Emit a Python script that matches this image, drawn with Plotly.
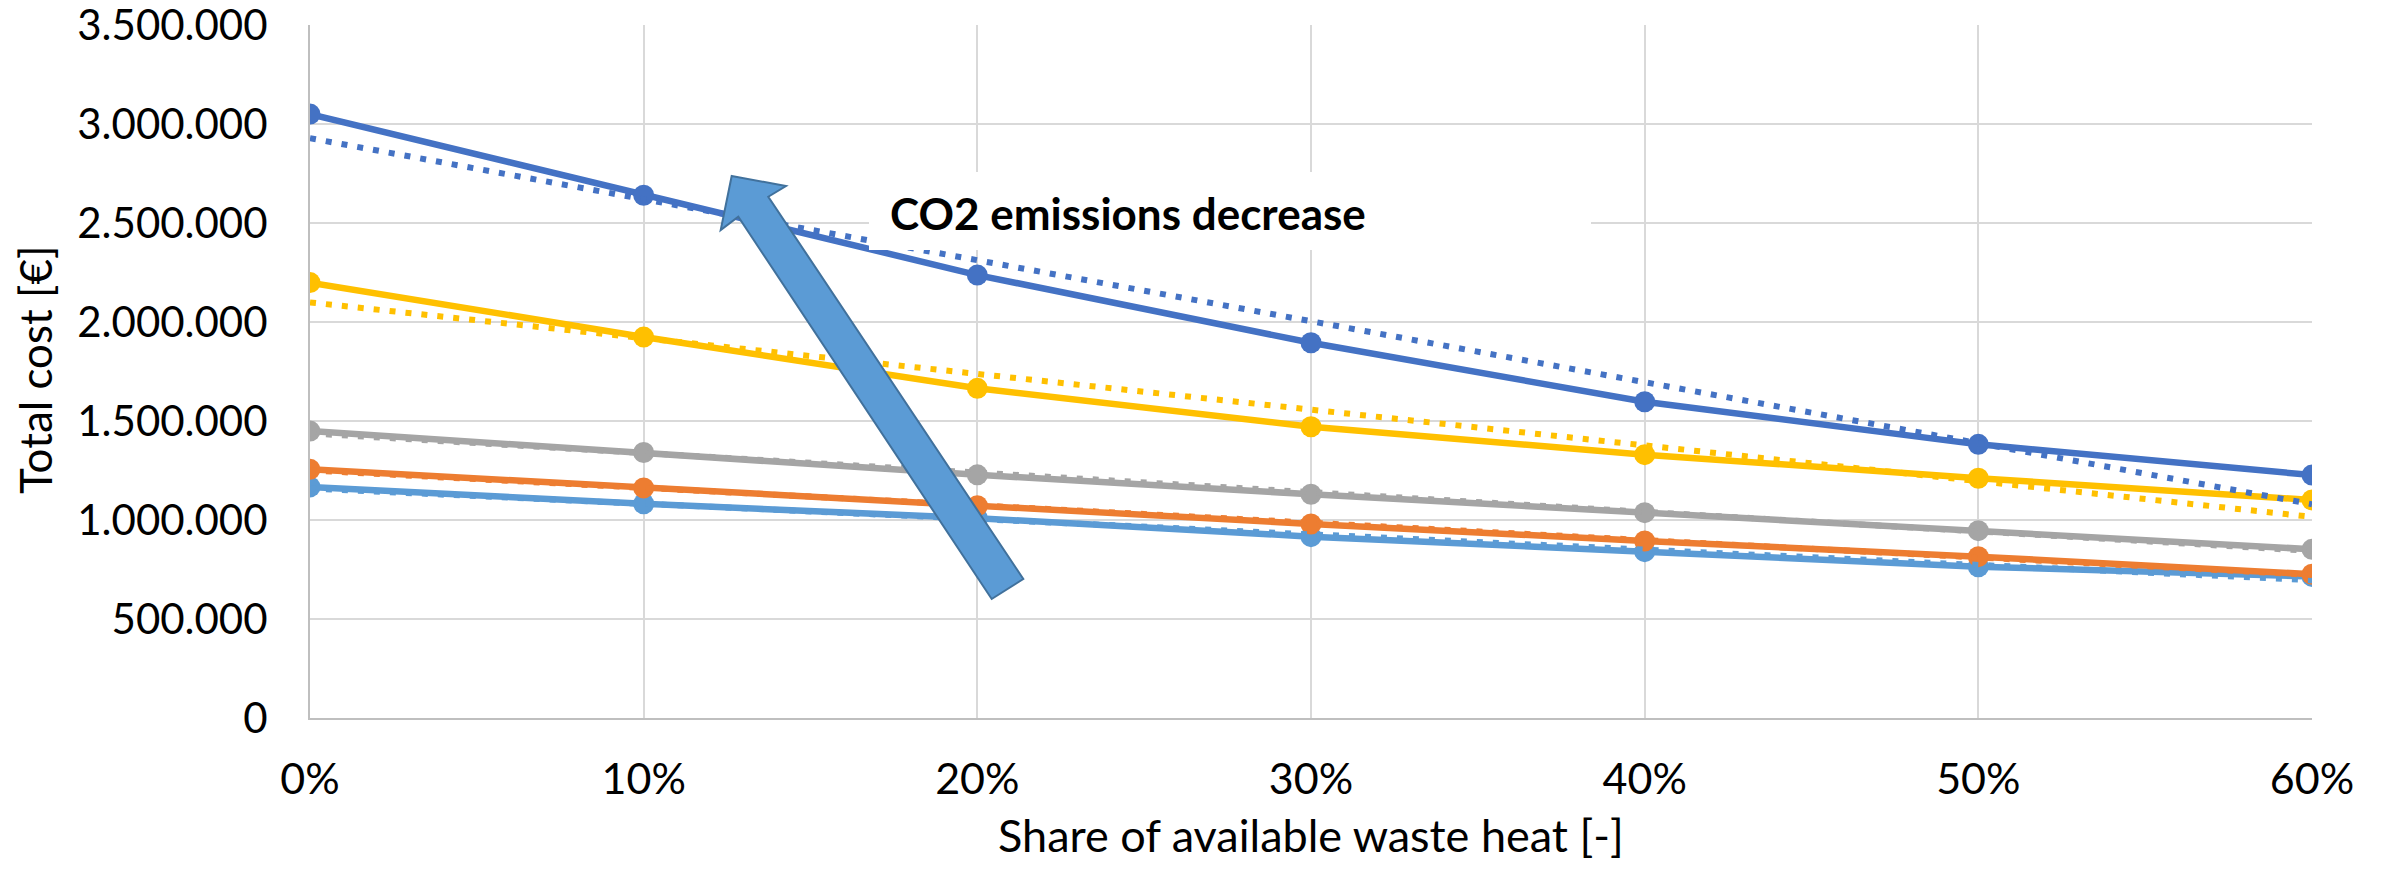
import numpy as np
import plotly.graph_objects as go

# Share of available waste heat (x) and total cost per scenario (y, EUR)
share = [0.0, 0.1, 0.2, 0.3, 0.4, 0.5, 0.6]

cost_blue = [3050000, 2640000, 2237000, 1895000, 1597000, 1382000, 1227000]
cost_yellow = [2199000, 1924000, 1665000, 1471000, 1330000, 1211000, 1101000]
cost_gray = [1449000, 1341000, 1228000, 1130000, 1037000, 946000, 852000]
cost_orange = [1256000, 1162000, 1072000, 980000, 894000, 815000, 726000]
cost_lightblue = [1167000, 1082000, 1009000, 916000, 840000, 764000, 715000]

y_ticks = [0, 500000, 1000000, 1500000, 2000000, 2500000, 3000000, 3500000]
x_ticks = [0.0, 0.1, 0.2, 0.3, 0.4, 0.5, 0.6]

series = [
    (cost_lightblue, "#5B9BD5"),
    (cost_orange, "#ED7D31"),
    (cost_gray, "#A5A5A5"),
    (cost_yellow, "#FFC000"),
    (cost_blue, "#4472C4"),
]

FONT = "Lato"
W, H = 2381, 870
L, R, T, B = 310, 69, 25, 152
PW, PH = W - L - R, H - T - B


def px(x, y):
    """Pixel position -> paper coordinates of the plot area."""
    return (x - L) / PW, (H - B - y) / PH


fig = go.Figure()

for vals, col in series:
    fig.add_trace(go.Scatter(
        x=share, y=vals, mode="lines+markers",
        line=dict(color=col, width=6.5),
        marker=dict(color=col, size=21),
        showlegend=False, hoverinfo="skip"))

# Linear trendlines of each series (dotted)
xs = np.array(share)
for vals, col in series:
    k, d = np.polyfit(xs, np.array(vals, dtype=float), 1)
    fig.add_trace(go.Scatter(
        x=[xs[0], xs[-1]], y=[d + k * xs[0], d + k * xs[-1]], mode="lines",
        line=dict(color=col, width=6, dash="6px,10px"),
        showlegend=False, hoverinfo="skip"))

shapes = []
# white label box
x0, y0 = px(869, 250)
x1, y1 = px(1591, 172)
shapes.append(dict(type="rect", xref="paper", yref="paper",
                   x0=x0, y0=y0, x1=x1, y1=y1,
                   fillcolor="white", line=dict(width=0), layer="above"))

# block arrow
pts = [(731.7, 176), (786, 186), (768.3, 196.7), (1023.3, 579),
       (991.7, 599), (738.3, 216.7), (720.7, 230)]
path = ""
for i, (ax, ay) in enumerate(pts):
    u, v = px(ax, ay)
    path += ("M" if i == 0 else "L") + f"{u:.5f},{v:.5f} "
path += "Z"
shapes.append(dict(type="path", xref="paper", yref="paper", path=path,
                   fillcolor="#5B9BD5", line=dict(color="#41719C", width=2),
                   layer="above"))

annotations = [
    dict(text="<b>CO2 emissions decrease</b>", xref="paper", yref="paper",
         x=px(888, 0)[0], y=px(0, 213)[1], xanchor="left", yanchor="middle",
         showarrow=False, font=dict(family=FONT, size=44, color="black")),
    dict(text="Share of available waste heat [-]", xref="paper", yref="paper",
         x=0.5, y=0, yshift=-117, xanchor="center", yanchor="middle",
         showarrow=False, font=dict(family=FONT, size=45, color="#000000")),
    dict(text="Total cost [€]", xref="paper", yref="paper", textangle=-90,
         x=0, xshift=35 - L, y=px(0, 370)[1], xanchor="center", yanchor="middle",
         showarrow=False, font=dict(family=FONT, size=44, color="#000000")),
]

fig.update_layout(
    width=W, height=H,
    margin=dict(l=L, r=R, t=T, b=B, pad=0, autoexpand=False),
    paper_bgcolor="white", plot_bgcolor="white",
    separators=",.",
    shapes=shapes, annotations=annotations,
    font=dict(family=FONT, size=42, color="black"),
    xaxis=dict(range=[0, 0.6], tickvals=x_ticks, tickformat=".0%",
               automargin=False,
               showgrid=True, gridcolor="#D9D9D9", gridwidth=2,
               showline=True, linecolor="#BFBFBF", linewidth=2,
               zeroline=False, ticks="", ticklabelstandoff=22,
               tickfont=dict(family=FONT, size=43)),
    yaxis=dict(range=[0, 3500001], tickvals=y_ticks, tickformat=",d",
               automargin=False,
               showgrid=True, gridcolor="#D9D9D9", gridwidth=2,
               showline=True, linecolor="#BFBFBF", linewidth=2,
               zeroline=False, ticks="", ticklabelstandoff=32,
               ticklabeloverflow="allow",
               tickfont=dict(family=FONT, size=42)),
)

fig.write_html("out.html")
